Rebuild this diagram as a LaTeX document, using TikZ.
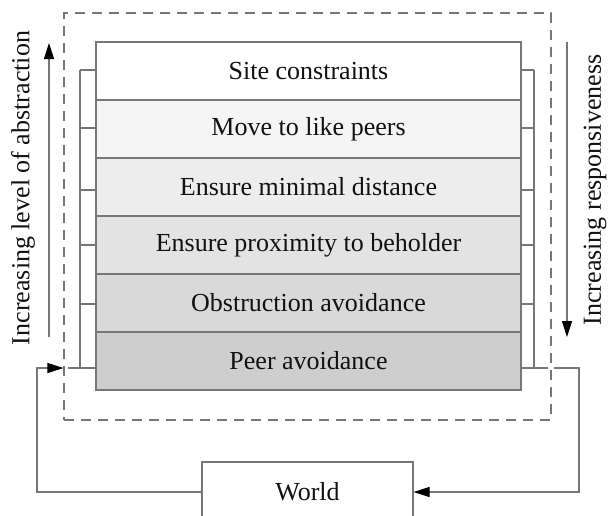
\documentclass[tikz,border=0pt]{standalone}
\usepackage{fontspec}
\setmainfont{Liberation Serif}
\usetikzlibrary{arrows.meta}
\definecolor{lc}{HTML}{777777}
\definecolor{txt}{HTML}{111111}
\definecolor{f1}{HTML}{FFFFFF}
\definecolor{f2}{HTML}{F5F5F5}
\definecolor{f3}{HTML}{EDEDED}
\definecolor{f4}{HTML}{E3E3E3}
\definecolor{f5}{HTML}{D9D9D9}
\definecolor{f6}{HTML}{CECECE}
\tikzset{
  ln/.style={draw=lc, line width=1.1pt},
  lbl/.style={font=\fontsize{26}{31}\selectfont, text=txt},
  row/.style={draw=lc, line width=1.1pt, minimum width=425pt, minimum height=58pt, inner sep=0pt, lbl},
  tip/.style={-{Triangle[length=16pt,width=10pt,color=black]}},
}
\begin{document}
\begin{tikzpicture}[x=1pt,y=-1pt]
\useasboundingbox (0,0) rectangle (609,515);
% dashed box
\node[draw=lc, line width=1.1pt, dash pattern=on 10pt off 7pt, minimum width=487pt, minimum height=407pt, inner sep=0pt] (dbox) at (307.5,216.5) {};
% stack
\node[row, fill=f1] (r1) at (308.5,71) {Site constraints};
\node[row, fill=f2] (r2) at (308.5,129) {Move to like peers};
\node[row, fill=f3] (r3) at (308.5,187) {Ensure minimal distance};
\node[row, fill=f4] (r4) at (308.5,245) {Ensure proximity to beholder};
\node[row, fill=f5] (r5) at (308.5,303) {Obstruction avoidance};
\node[row, fill=f6] (r6) at (308.5,361) {Peer avoidance};
% brackets
\draw[ln] (80,70) -- (80,368);
\draw[ln] (534,70) -- (534,368);
\foreach \y in {70,128,190,245,304} {
  \draw[ln] (80,\y) -- (r1.west |- 0,\y);
  \draw[ln] (r1.east |- 0,\y) -- (534,\y);
}
\draw[ln] (68,368) -- (r6.west |- 0,368);
\draw[ln] (r6.east |- 0,368) -- (548,368);
% world
\node[draw=lc, line width=1.1pt, fill=white, minimum width=211pt, minimum height=60pt, inner sep=0pt, lbl] (world) at (307.5,492) {World};
% feedback
\draw[ln, tip] (world.west) -| (37,368) -- (dbox.west |- 0,368);
\draw[ln, tip] (554,368) -| (579,492) -- (world.east);
% side arrows
\draw[ln, tip] (49,337) -- (49,43);
\draw[ln, tip] (567,42) -- (567,337);
\node[lbl, rotate=90] (labL) at (23,188) {Increasing level of abstraction};
\node[lbl, rotate=90] (labR) at (595,190) {Increasing responsiveness};
\end{tikzpicture}
\end{document}
